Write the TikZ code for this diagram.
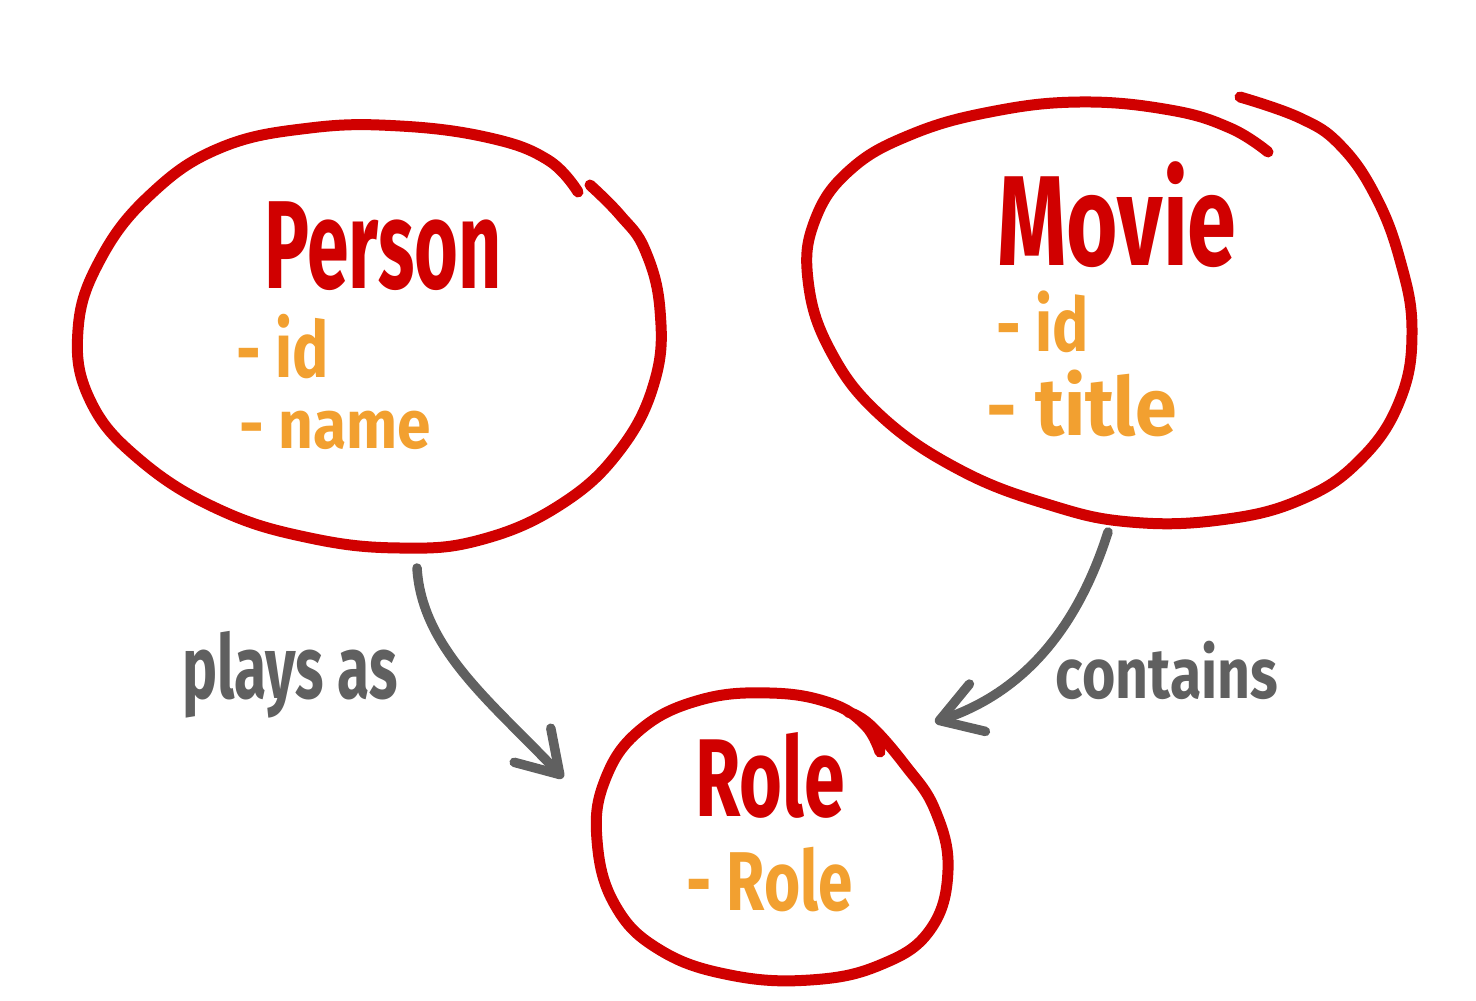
\documentclass[tikz,border=0pt]{standalone}
\usepackage{fontspec}
\setmainfont{Fira Sans}
\usepackage{graphicx}
\usetikzlibrary{arrows.meta}
\definecolor{inkred}{RGB}{208,0,0}
\definecolor{inkorange}{RGB}{242,160,48}
\definecolor{inkgray}{RGB}{96,96,96}
\tikzset{
 bubble/.style={draw=inkred, line width=0.22cm, line cap=round, line join=round},
 link/.style={draw=inkgray, line width=0.19cm, line cap=round, -{Straight Barb[length=0.8cm,width=1.0cm,round]}},
 titletext/.style={text=inkred, inner sep=0pt, font=\bfseries},
 attrtext/.style={text=inkorange, inner sep=0pt, font=\bfseries},
 lbltext/.style={text=inkgray, inner sep=0pt, font=\bfseries},
}
\newcommand{\hw}[4]{\scalebox{#2}[#3]{\fontsize{#1}{#1}\selectfont #4}}
\begin{document}
\begin{tikzpicture}[x=0.02cm,y=-0.02cm]
\useasboundingbox (0,0) rectangle (1476,1000);
% Person bubble
\draw[bubble] plot[smooth, tension=0.7] coordinates {(578,192) (548,160) (490,138) (400,126) (310,128) (220,148) (150,195) (100,260) (78,330) (90,400) (140,460) (220,510) (310,538) (400,548) (480,540) (560,505) (620,450) (655,380) (660,310) (645,250) (620,215) (590,185)};
% Movie bubble
\draw[bubble] plot[smooth, tension=0.7] coordinates {(1240,97) (1300,118) (1340,145) (1375,195) (1400,260) (1412,330) (1400,400) (1360,460) (1300,500) (1220,520) (1130,522) (1050,505) (960,470) (880,415) (830,350) (808,280) (815,220) (850,170) (910,135) (990,112) (1080,102) (1170,110) (1230,128) (1268,152)};
% Role bubble
\draw[bubble] plot[smooth, tension=0.7] coordinates {(880,752) (865,725) (830,703) (770,693) (700,700) (640,730) (605,780) (597,840) (615,905) (660,950) (730,975) (810,980) (880,965) (930,930) (948,870) (935,810) (905,765) (870,725) (848,712)};
% texts
\node[titletext] (person) at (383,246) {\hw{46}{0.93}{1.55}{Person}};
\node[attrtext] (pid) at (283,347) {\hw{37}{0.93}{1.2}{- id}};
\node[attrtext] (pname) at (335,430) {\hw{37}{0.93}{1.05}{- name}};
\node[titletext] (movie) at (1117,215) {\hw{54}{0.93}{1.35}{Movie}};
\node[attrtext] (mid) at (1043,322) {\hw{37}{0.93}{1.15}{- id}};
\node[attrtext] (mtitle) at (1082,403) {\hw{46}{0.93}{1.0}{- title}};
\node[titletext] (role) at (770,775) {\hw{45}{0.93}{1.4}{Role}};
\node[attrtext] (rrole) at (770,880) {\hw{38}{0.93}{1.25}{- Role}};
\node[lbltext] (plays) at (290,675) {\hw{36}{0.93}{1.4}{plays as}};
\node[lbltext] (contains) at (1167,670) {\hw{35}{0.93}{1.15}{contains}};
% connectors
\coordinate (pstart) at (417,568);
\coordinate (pend) at (563,778);
\coordinate (mstart) at (1108,532);
\coordinate (mend) at (935,722);
\draw[link] (pstart) .. controls (422,650) and (495,705) .. (pend);
\draw[link] (mstart) .. controls (1080,620) and (1030,690) .. (mend);
\end{tikzpicture}
\end{document}
